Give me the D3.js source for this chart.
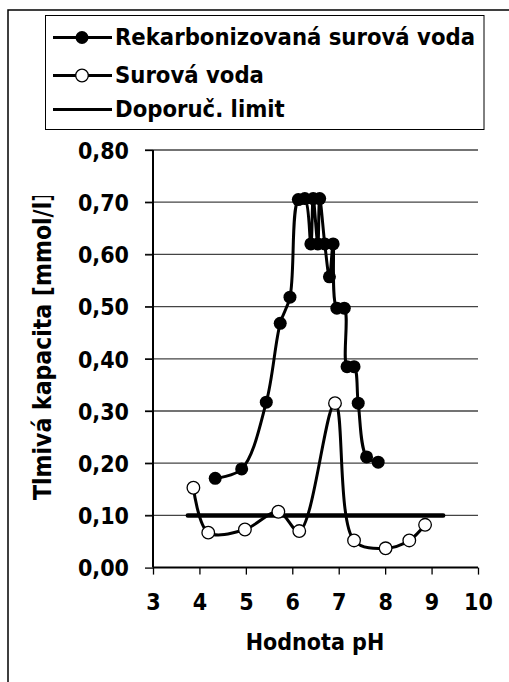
<!DOCTYPE html>
<html>
<head>
<meta charset="utf-8">
<script src="https://cdn.jsdelivr.net/npm/d3@7/dist/d3.min.js"></script>
<style>
  html, body { margin: 0; padding: 0; background: #fff; }
  svg { display: block; }
  text { font-family: "DejaVu Sans Condensed", "DejaVu Sans", sans-serif; font-stretch: condensed; font-weight: bold; fill: #000; }
</style>
</head>
<body>
<script>
// ---- data ----
const recX = [4.34, 4.91, 5.44, 5.74, 5.95, 6.13, 6.27, 6.40, 6.45, 6.55, 6.59, 6.70, 6.80, 6.88, 6.96, 7.12, 7.18, 7.33, 7.42, 7.60, 7.85];
const recY = [0.171, 0.189, 0.317, 0.468, 0.518, 0.705, 0.707, 0.620, 0.707, 0.620, 0.707, 0.620, 0.557, 0.620, 0.497, 0.497, 0.385, 0.385, 0.315, 0.212, 0.202];
const rawX = [3.87, 4.19, 4.98, 5.70, 6.15, 6.92, 7.33, 8.01, 8.52, 8.86];
const rawY = [0.153, 0.067, 0.073, 0.107, 0.070, 0.315, 0.052, 0.037, 0.052, 0.082];
const limitX = [3.75, 9.25];
const limitY = [0.10, 0.10];
const xTicks = [3, 4, 5, 6, 7, 8, 9, 10];
const yTicks = [0, 0.1, 0.2, 0.3, 0.4, 0.5, 0.6, 0.7, 0.8];
const seriesNames = ["Rekarbonizovaná surová voda", "Surová voda", "Doporuč. limit"];
const xTitle = "Hodnota pH";
const yTitle = "Tlmivá kapacita [mmol/l]";

const W = 509, H = 682;
const svg = d3.select("body").append("svg").attr("width", W).attr("height", H);

// outer chart frame (cropped)
svg.append("path").attr("d", `M8,${H} V10 H${W}`).attr("fill", "none").attr("stroke", "#000").attr("stroke-width", 1.5);

const x = d3.scaleLinear().domain([3, 10]).range([153, 478]);
const y = d3.scaleLinear().domain([0, 0.8]).range([567.6, 150]);

// gridlines
svg.append("g").selectAll("line").data(yTicks.filter(d => d > 0)).join("line")
  .attr("x1", 145).attr("x2", 478)
  .attr("y1", d => y(d)).attr("y2", d => y(d))
  .attr("stroke", "#444").attr("stroke-width", 1.3);

// y axis
const yAxis = d3.axisLeft(y).tickValues(yTicks).tickSize(8).tickPadding(16)
  .tickFormat(d => d3.format(".2f")(d).replace(".", ","));
const gy = svg.append("g").attr("transform", `translate(${x(3)},0)`).call(yAxis);
gy.select(".domain").attr("stroke", "#000").attr("stroke-width", 2).attr("d", `M-0,${y(0.8)}V${y(0)}`);
gy.selectAll(".tick line").attr("stroke", "#000").attr("stroke-width", 1.3);
gy.selectAll(".tick text").attr("dy", "0.36em").attr("x", -24);

// x axis
const xAxis = d3.axisBottom(x).tickValues(xTicks).tickSize(7).tickPadding(19).tickFormat(d3.format("d"));
const gx = svg.append("g").attr("transform", `translate(0,${y(0)})`).call(xAxis);
gx.select(".domain").attr("stroke", "#000").attr("stroke-width", 2).attr("d", `M${x(3)},0H${x(10)}`);
gx.selectAll(".tick line").attr("stroke", "#000").attr("stroke-width", 1.3);
gx.selectAll(".tick text").attr("dy", "0.71em");
svg.selectAll("g").attr("font-family", null).attr("font-size", null);
svg.selectAll(".tick text").attr("font-size", 23);

// axis titles
svg.append("text").attr("x", 315).attr("y", 650).attr("text-anchor", "middle").attr("font-size", 23).text(xTitle);
svg.append("clipPath").attr("id", "yclip").append("rect").attr("x", 0).attr("y", 196).attr("width", 140).attr("height", 486);
svg.append("g").attr("clip-path", "url(#yclip)")
  .append("text").attr("transform", "translate(51,500) rotate(-90)").attr("font-size", 24.5).text(yTitle);

// limit line
const limitData = limitX.map((d, i) => [d, limitY[i]]);
svg.append("path").datum(limitData)
  .attr("d", d3.line().x(d => x(d[0])).y(d => y(d[1])))
  .attr("stroke", "#000").attr("stroke-width", 4.5).attr("fill", "none").attr("stroke-linecap", "round");

const smooth = d3.line().x(d => x(d[0])).y(d => y(d[1])).curve(d3.curveCatmullRom.alpha(0.5));
const recData = recX.map((d, i) => [d, recY[i]]);
const rawData = rawX.map((d, i) => [d, rawY[i]]);

svg.append("path").datum(recData).attr("d", smooth).attr("fill", "none").attr("stroke", "#000").attr("stroke-width", 3);
svg.append("g").selectAll("circle").data(recData).join("circle")
  .attr("cx", d => x(d[0])).attr("cy", d => y(d[1])).attr("r", 6.5).attr("fill", "#000");

svg.append("path").datum(rawData).attr("d", smooth).attr("fill", "none").attr("stroke", "#000").attr("stroke-width", 3);
svg.append("g").selectAll("circle").data(rawData).join("circle")
  .attr("cx", d => x(d[0])).attr("cy", d => y(d[1])).attr("r", 6.3).attr("fill", "#fff").attr("stroke", "#000").attr("stroke-width", 1.3);

// legend
const lg = svg.append("g");
lg.append("rect").attr("x", 45.5).attr("y", 15.5).attr("width", 438.5).attr("height", 114)
  .attr("fill", "#fff").attr("stroke", "#000").attr("stroke-width", 1);
const rows = [45, 83, 117];
seriesNames.forEach((name, i) => {
  const cy = rows[i] - 7.5;
  lg.append("line").attr("x1", 53).attr("x2", 112).attr("y1", cy).attr("y2", cy)
    .attr("stroke", "#000").attr("stroke-width", 3);
  if (i === 0) lg.append("circle").attr("cx", 82).attr("cy", cy).attr("r", 6.5).attr("fill", "#000");
  if (i === 1) lg.append("circle").attr("cx", 82).attr("cy", cy).attr("r", 6.3).attr("fill", "#fff").attr("stroke", "#000").attr("stroke-width", 1.3);
  lg.append("text").attr("x", 115).attr("y", rows[i]).attr("font-size", 23.6).text(name);
});
</script>
</body>
</html>
